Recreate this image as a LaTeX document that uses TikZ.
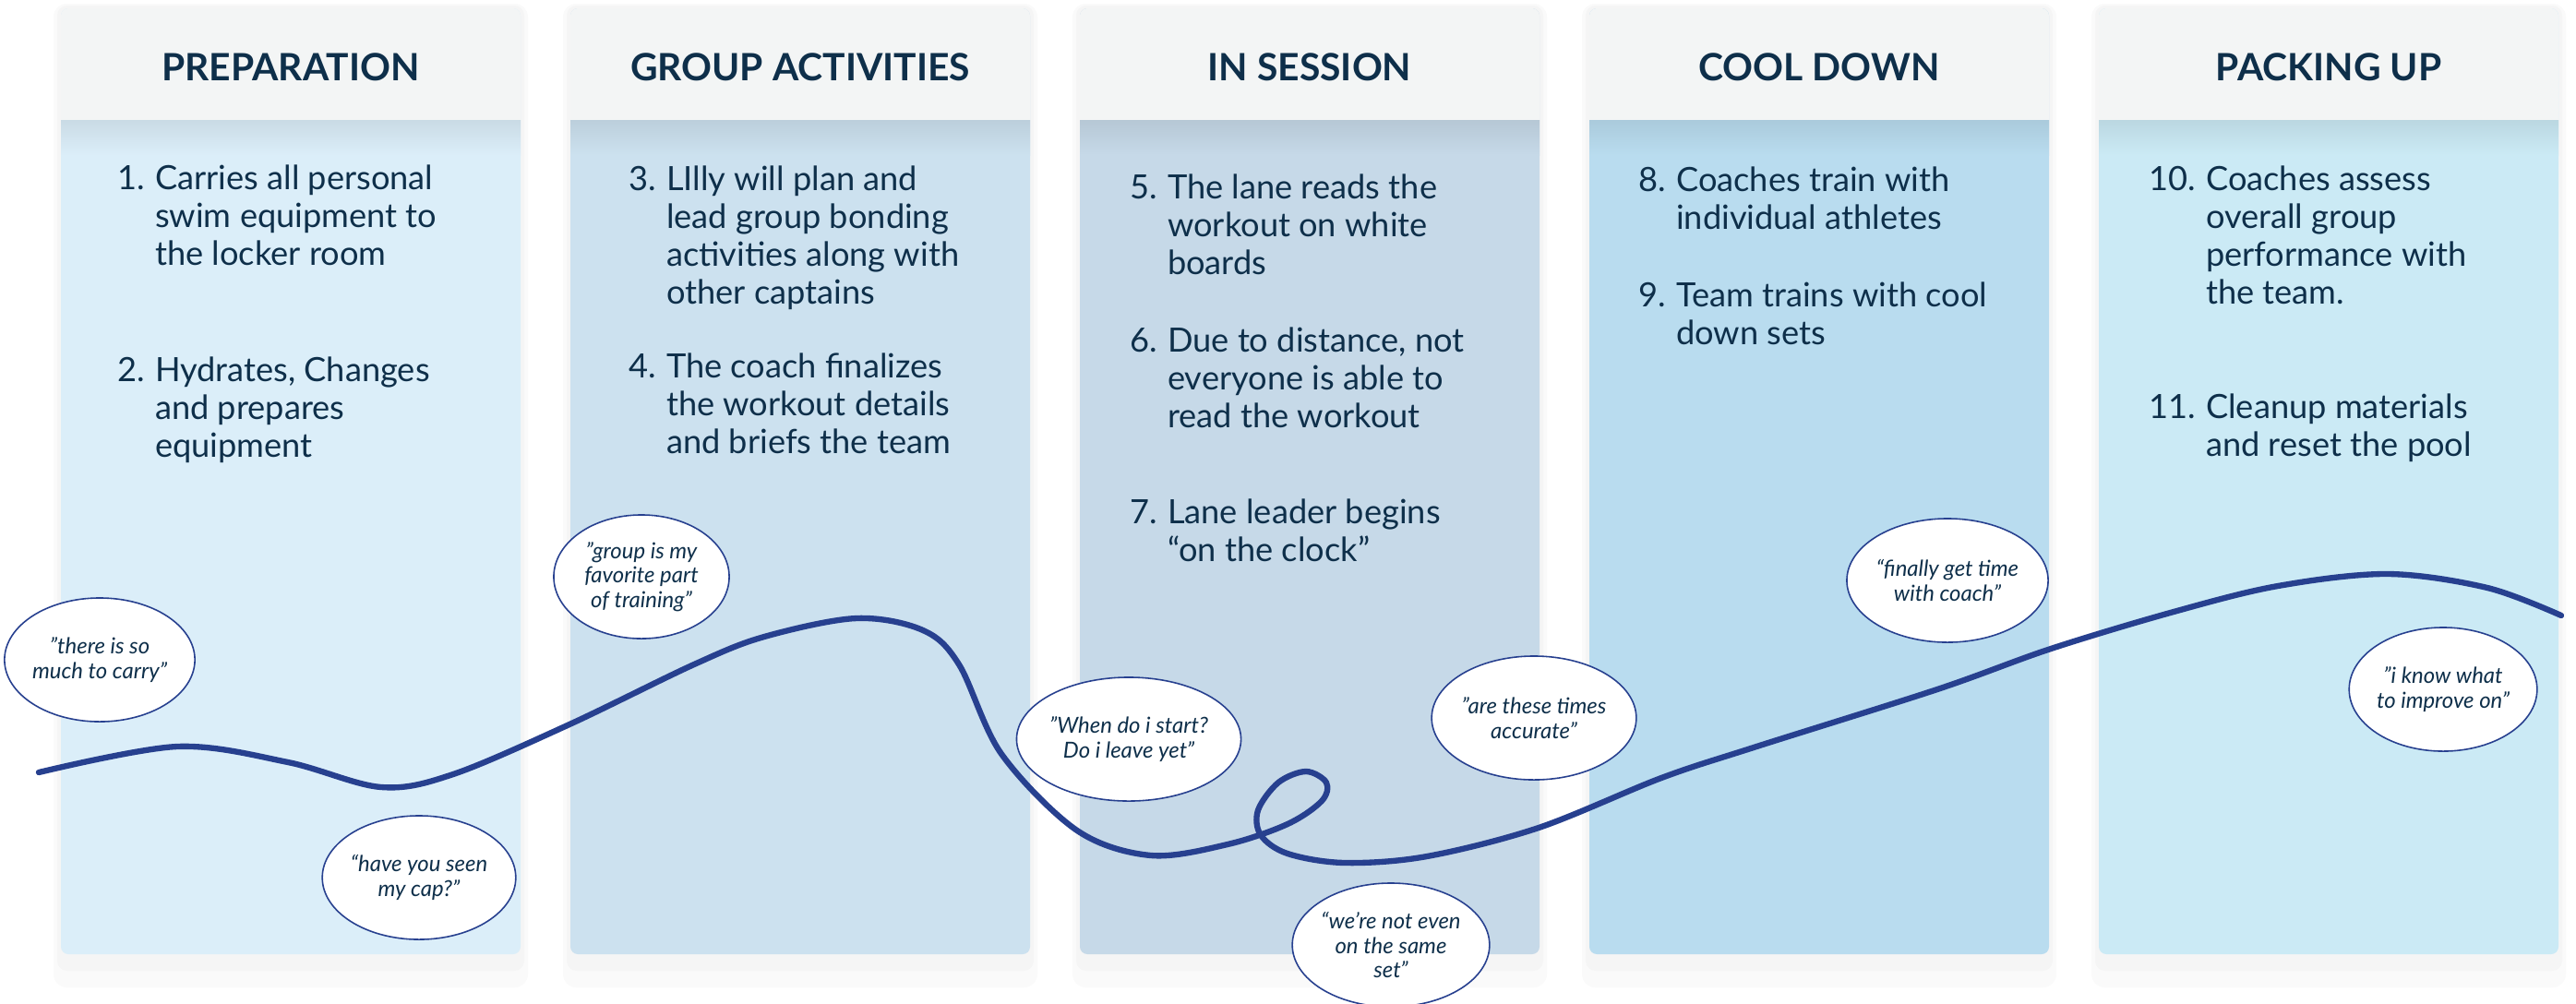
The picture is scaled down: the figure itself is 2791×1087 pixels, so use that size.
\documentclass[tikz,border=0pt]{standalone}
\usepackage{fontspec}
\setmainfont{Lato}
\usepackage{tikz}
\usetikzlibrary{shapes.geometric}
\definecolor{navy}{HTML}{0E2F4A}
\definecolor{lineblue}{HTML}{27408F}
\definecolor{headgray}{HTML}{F3F5F5}
\definecolor{prepblue}{HTML}{DBEEF9}
\definecolor{groupblue}{HTML}{CCE1EF}
\definecolor{sessblue}{HTML}{C6D9E8}
\definecolor{coolblue}{HTML}{B9DCEF}
\definecolor{packblue}{HTML}{CBEAF5}
\tikzset{
  phase/.style={text=navy, inner sep=0pt, font=\fontsize{11.6}{13}\selectfont\bfseries},
  stepnode/.style={anchor=base west, inner sep=0pt, text=navy,
    font=\fontsize{10.3}{11.7}\selectfont},
  quote/.style={ellipse, draw=lineblue, line width=0.45pt, fill=white,
    minimum width=1.9cm, minimum height=1.34cm, inner sep=0pt, align=center,
    text=navy, font=\fontsize{6.8}{7.6}\selectfont\itshape},
  journey/.style={draw=lineblue, line width=1.8pt, line cap=round},
}
% number, then the wrapped lines hanging under the text
\newcommand{\stepitem}[2]{\begin{tabular}[t]{@{}l@{\hspace{0.3em}}l@{}}#1&\begin{tabular}[t]{@{}l@{}}#2\end{tabular}\end{tabular}}

\begin{document}
\begin{tikzpicture}[x=0.01cm, y=-0.01cm]

  \useasboundingbox (0,0) rectangle (2791,1087);
  \fill[white] (0,0) rectangle (2791,1087);

  % phase columns: left edge / colour / title / name
  \foreach \x/\c/\t/\n in {66/prepblue/PREPARATION/prep,
                           618/groupblue/GROUP ACTIVITIES/group,
                           1170/sessblue/IN SESSION/session,
                           1722/coolblue/COOL DOWN/cool,
                           2274/packblue/PACKING UP/pack}{
    \fill[black, opacity=0.02, rounded corners=4pt] (\x-8, 4) rectangle (\x+506, 1070);
    \fill[black, opacity=0.02, rounded corners=3pt] (\x-4, 6) rectangle (\x+502, 1052);
    \fill[\c, rounded corners=2.3pt] (\x, 9) rectangle (\x+498, 1034);
    \fill[headgray, rounded corners=2.3pt] (\x, 9) rectangle (\x+498, 150);
    \shade[top color=\c!92!black, bottom color=\c] (\x, 130) rectangle (\x+498, 168);
    \node[phase] (\n) at (\x+249, 73) {\t};
  }

  % steps
  \node[stepnode] (s1) at (127, 205) {\stepitem{1.}{Carries all personal\\swim equipment to\\the locker room}};
  \node[stepnode] (s2) at (127, 413) {\stepitem{2.}{Hydrates, Changes\\and prepares\\equipment}};

  \node[stepnode] (s3) at (681, 206) {\stepitem{3.}{LIlly will plan and\\lead group bonding\\activities along with\\other captains}};
  \node[stepnode] (s4) at (681, 409) {\stepitem{4.}{The coach finalizes\\the workout details\\and briefs the team}};

  \node[stepnode] (s5) at (1224, 215) {\stepitem{5.}{The lane reads the\\workout on white\\boards}};
  \node[stepnode] (s6) at (1224, 381) {\stepitem{6.}{Due to distance, not\\everyone is able to\\read the workout}};
  \node[stepnode] (s7) at (1224, 567) {\stepitem{7.}{Lane leader begins\\“on the clock”}};

  \node[stepnode] (s8) at (1775, 207) {\stepitem{8.}{Coaches train with\\individual athletes}};
  \node[stepnode] (s9) at (1775, 332) {\stepitem{9.}{Team trains with cool\\down sets}};

  \node[stepnode] (s10) at (2328, 206) {\stepitem{10.}{Coaches assess\\overall group\\performance with\\the team.}};
  \node[stepnode] (s11) at (2328, 453) {\stepitem{11.}{Cleanup materials\\and reset the pool}};

  % emotional journey line
  \draw[journey] plot[smooth, tension=0.55] coordinates {
    (42,837) (192,809) (312,826) (413,853) (491,839) (617,785) (752,720)
    (828,690) (928,670) (1000,683) (1039,720) (1085,817) (1167,900)
    (1247,927) (1330,915) (1395,893) (1432,868) (1437,848) (1415,836)
    (1385,848) (1363,878) (1366,905) (1395,925) (1457,935) (1546,928)
    (1667,897) (1800,843) (1900,810) (2099,747) (2222,703) (2355,663)
    (2468,635) (2587,622) (2695,637) (2775,667)};

  % quotes
  \node[quote] (q1) at (108, 715) {"there is so\\much to carry"};
  \node[quote] (q2) at (454, 951) {“have you seen\\my cap?"};
  \node[quote] (q3) at (695, 625) {"group is my\\favorite part\\of training"};
  \node[quote] (q4) at (1223, 801) {"When do i start?\\Do i leave yet"};
  \node[quote] (q5) at (1662, 778) {"are these times\\accurate"};
  \node[quote] (q6) at (1507, 1024) {“we’re not even\\on the same\\set"};
  \node[quote] (q7) at (2110, 629) {“finally get time\\with coach"};
  \node[quote] (q8) at (2647, 747) {"i know what\\to improve on"};

\end{tikzpicture}
\end{document}
